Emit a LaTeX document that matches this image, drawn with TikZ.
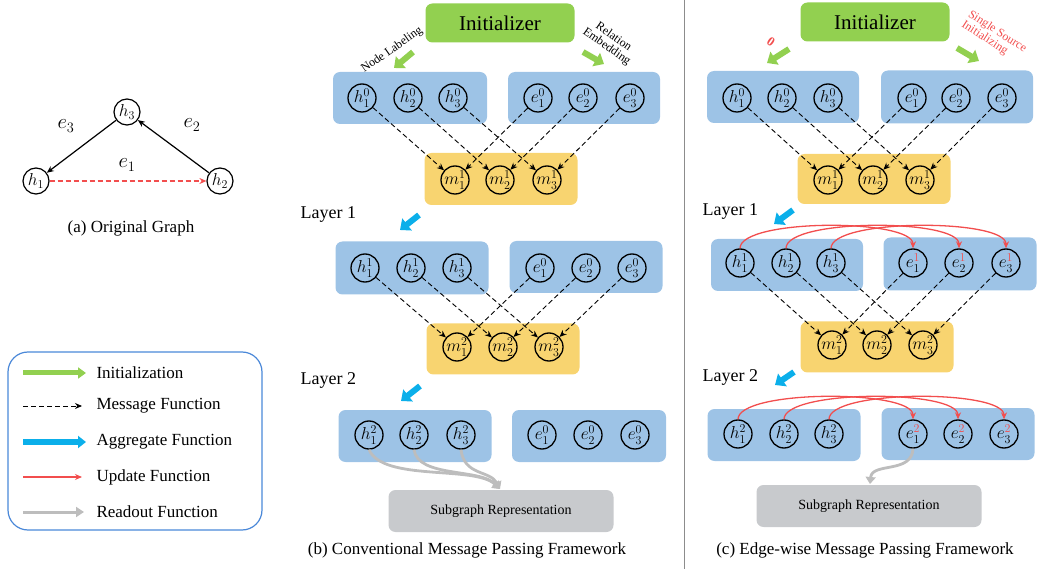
\documentclass[tikz,border=0pt]{standalone}
\usepackage{fontspec}
\setmainfont{Liberation Serif}
\usetikzlibrary{arrows.meta}
\definecolor{boxblue}{HTML}{9DC3E6}
\definecolor{boxorange}{HTML}{F8D470}
\definecolor{initgreen}{HTML}{92D050}
\definecolor{aggblue}{HTML}{0BAFEA}
\definecolor{updred}{HTML}{F24E4E}
\definecolor{readgray}{HTML}{BDBDBD}
\definecolor{subgray}{HTML}{C8CACD}
\definecolor{legblue}{HTML}{4A88D8}
\definecolor{sepgray}{HTML}{8C8C8C}
\tikzset{
  vnode/.style={circle,draw=black,line width=1.3pt,minimum size=28pt,inner sep=0pt,font=\fontsize{18}{18}\selectfont},
  anode/.style={circle,draw=black,line width=1.2pt,minimum size=26pt,inner sep=0pt,font=\fontsize{17}{17}\selectfont},
  bluebox/.style={fill=boxblue,rounded corners=7pt,inner sep=0pt},
  orangebox/.style={fill=boxorange,rounded corners=7pt,inner sep=0pt},
  graybox/.style={fill=subgray,rounded corners=7pt,inner sep=0pt,font=\fontsize{14}{16}\selectfont},
  initbox/.style={fill=initgreen,rounded corners=7pt,inner sep=0pt,font=\fontsize{21}{24}\selectfont},
  msg/.style={dash pattern=on 5pt off 3pt,line width=0.9pt,-{Stealth[length=7pt,width=6pt]}},
  initarrow/.style={initgreen,line width=6pt,-{Triangle[length=9pt,width=15pt]}},
  aggarrow/.style={aggblue,line width=6pt,-{Triangle[length=9pt,width=15pt]}},
  upd/.style={updred,line width=1.3pt,-{Stealth[length=7pt,width=6pt]}},
  readout/.style={readgray,line width=2.8pt,-{Triangle[length=7pt,width=10pt]}},
  captxt/.style={font=\fontsize{17}{20}\selectfont},
  laytxt/.style={font=\fontsize{18}{20}\selectfont,anchor=west},
  legtxt/.style={font=\fontsize{17}{20}\selectfont,anchor=west},
  smalltxt/.style={font=\fontsize{12}{12}\selectfont,align=left},
}
\begin{document}
\begin{tikzpicture}[x=1pt,y=-1pt]
\useasboundingbox (0,0) rectangle (1050,569);
% separator
\draw[sepgray,line width=1pt] (684,0) -- (684,569);

% ---------------- (a) original graph
\node[anode] (ah3) at (127,112) {$h_3$};
\node[anode] (ah1) at (36,181) {$h_1$};
\node[anode] (ah2) at (220,181) {$h_2$};
\draw[line width=1.2pt,-{Stealth[length=7pt,width=6pt]}] (ah3) -- (ah1);
\draw[line width=1.2pt,-{Stealth[length=7pt,width=6pt]}] (ah2) -- (ah3);
\draw[updred,line width=1.3pt,dash pattern=on 5pt off 3pt,-{Stealth[length=7pt,width=6pt]}] (ah1) -- (ah2);
\node[font=\fontsize{20}{20}\selectfont] (le3) at (66,126) {$e_3$};
\node[font=\fontsize{20}{20}\selectfont] (le2) at (192,125) {$e_2$};
\node[font=\fontsize{20}{20}\selectfont] (le1) at (127,165) {$e_1$};
\node[captxt] (capa) at (131,228) {(a) Original Graph};

% ---------------- legend
\draw[legblue,line width=1.2pt,rounded corners=20pt] (8,352) rectangle (262,530);
\coordinate (l1a) at (23,373); \coordinate (l1b) at (86,373);
\coordinate (l2a) at (23,406); \coordinate (l2b) at (82,406);
\coordinate (l3a) at (23,442); \coordinate (l3b) at (86,442);
\coordinate (l4a) at (23,477); \coordinate (l4b) at (82,477);
\coordinate (l5a) at (23,512); \coordinate (l5b) at (84,512);
\draw[initgreen,line width=5pt,-{Triangle[length=8pt,width=11pt]}] (l1a) -- (l1b);
\draw[msg] (l2a) -- (l2b);
\draw[aggblue,line width=6pt,-{Triangle[length=8pt,width=12pt]}] (l3a) -- (l3b);
\draw[upd] (l4a) -- (l4b);
\draw[readgray,line width=3pt,-{Triangle[length=8pt,width=10pt]}] (l5a) -- (l5b);
\node[legtxt] (t1) at (93,373) {Initialization};
\node[legtxt] (t2) at (93,406) {Message Function};
\node[legtxt] (t3) at (93,442) {Aggregate Function};
\node[legtxt] (t4) at (93,477) {Update Function};
\node[legtxt] (t5) at (93,512) {Readout Function};

% ---------------- (b) conventional
\node[initbox,minimum width=149pt,minimum height=39pt] (binit) at (500,23) {Initializer};
\coordinate (bga) at (413,52); \coordinate (bgb) at (394,68);
\coordinate (bgc) at (583,52); \coordinate (bgd) at (604,64);
\draw[initarrow] (bga) -- (bgb);
\draw[initarrow] (bgc) -- (bgd);
\node[smalltxt,rotate=35] (bnl) at (392,50) {Node Labeling};
\node[smalltxt,rotate=-35,align=center] (bre) at (610,42) {Relation\\Embedding};

% row 0
\node[bluebox,minimum width=154pt,minimum height=52pt] (bAL) at (410,98) {};
\node[bluebox,minimum width=152pt,minimum height=52pt] (bAR) at (584,98) {};
\node[orangebox,minimum width=153pt,minimum height=52pt] (bAO) at (501,179) {};
\foreach \i/\x in {1/362,2/408,3/453} \node[vnode] (bAh\i) at (\x,98) {$h_{\i}^{0}$};
\foreach \i/\x in {1/538,2/583,3/630} \node[vnode] (bAe\i) at (\x,98) {$e_{\i}^{0}$};
\foreach \i/\x in {1/455,2/500,3/547} \node[vnode] (bAm\i) at (\x,180) {$m_{\i}^{1}$};
\foreach \i in {1,2,3} {\draw[msg] (bAh\i) -- (bAm\i); \draw[msg] (bAe\i) -- (bAm\i);}

% layer 1
\node[laytxt] (bl1) at (297,215) {Layer 1};
\coordinate (bba) at (419,215); \coordinate (bbb) at (400,230);
\draw[aggarrow] (bba) -- (bbb);
\node[bluebox,minimum width=153pt,minimum height=53pt] (bBL) at (412,268) {};
\node[bluebox,minimum width=153pt,minimum height=52pt] (bBR) at (586,267) {};
\node[orangebox,minimum width=153pt,minimum height=51pt] (bBO) at (503,349) {};
\foreach \i/\x in {1/365,2/411,3/457} \node[vnode] (bBh\i) at (\x,268) {$h_{\i}^{1}$};
\foreach \i/\x in {1/540,2/586,3/632} \node[vnode] (bBe\i) at (\x,268) {$e_{\i}^{0}$};
\foreach \i/\x in {1/457,2/503,3/549} \node[vnode] (bBm\i) at (\x,347) {$m_{\i}^{2}$};
\foreach \i in {1,2,3} {\draw[msg] (bBh\i) -- (bBm\i); \draw[msg] (bBe\i) -- (bBm\i);}

% layer 2
\node[laytxt] (bl2) at (297,380) {Layer 2};
\coordinate (bca) at (420,386); \coordinate (bcb) at (401,401);
\draw[aggarrow] (bca) -- (bcb);
\node[bluebox,minimum width=153pt,minimum height=52pt] (bCL) at (415,436) {};
\node[bluebox,minimum width=154pt,minimum height=52pt] (bCR) at (589,436) {};
\foreach \i/\x in {1/369,2/414,3/461} \node[vnode] (bCh\i) at (\x,435) {$h_{\i}^{2}$};
\foreach \i/\x in {1/542,2/588,3/635} \node[vnode] (bCe\i) at (\x,435) {$e_{\i}^{0}$};
\node[graybox,minimum width=225pt,minimum height=42pt] (bsub) at (501,511) {Subgraph Representation};
\coordinate (btip) at (500,489);
\draw[readout] (bCh1.south) .. controls (383,482) and (475,465) .. (btip);
\draw[readout] (bCh2.south) .. controls (418,478) and (480,468) .. (btip);
\draw[readout] (bCh3.south) .. controls (464,476) and (490,470) .. (btip);
\node[captxt] (capb) at (467,550) {(b) Conventional Message Passing Framework};

% ---------------- (c) edge-wise
\node[initbox,minimum width=149pt,minimum height=39pt] (cinit) at (875,22) {Initializer};
\coordinate (cga) at (789,49); \coordinate (cgb) at (767,63);
\coordinate (cgc) at (957,48); \coordinate (cgd) at (979,61);
\draw[initarrow] (cga) -- (cgb);
\draw[initarrow] (cgc) -- (cgd);
\node[updred,rotate=-35,font=\fontsize{13}{13}\selectfont\bfseries] (czero) at (771,42) {0};
\node[smalltxt,updred,rotate=-33] (cssi) at (994,37) {Single Source\\Initializing};

% row 0
\node[bluebox,minimum width=152pt,minimum height=52pt] (cAL) at (783,97) {};
\node[bluebox,minimum width=152pt,minimum height=53pt] (cAR) at (957,97) {};
\node[orangebox,minimum width=153pt,minimum height=50pt] (cAO) at (874,179) {};
\foreach \i/\x in {1/737,2/782,3/828} \node[vnode] (cAh\i) at (\x,98) {$h_{\i}^{0}$};
\foreach \i/\x in {1/912,2/956,3/1002} \node[vnode] (cAe\i) at (\x,98) {$e_{\i}^{0}$};
\foreach \i/\x in {1/828,2/873,3/920} \node[vnode] (cAm\i) at (\x,180) {$m_{\i}^{1}$};
\foreach \i in {1,2,3} {\draw[msg] (cAh\i) -- (cAm\i); \draw[msg] (cAe\i) -- (cAm\i);}

% layer 1
\node[laytxt] (cl1) at (699,212) {Layer 1};
\coordinate (cba) at (793,210); \coordinate (cbb) at (774,224);
\draw[aggarrow] (cba) -- (cbb);
\node[bluebox,minimum width=152pt,minimum height=52pt] (cBL) at (787,265) {};
\node[bluebox,minimum width=153pt,minimum height=53pt] (cBR) at (960,264) {};
\node[orangebox,minimum width=153pt,minimum height=51pt] (cBO) at (877,347) {};
\foreach \i/\x in {1/740,2/786,3/831} \node[vnode] (cBh\i) at (\x,263) {$h_{\i}^{1}$};
\foreach \i/\x in {1/913,2/959,3/1006} \node[vnode] (cBe\i) at (\x,263) {$e_{\i}^{\textcolor{updred}{1}}$};
\foreach \i/\x in {1/832,2/877,3/923} \node[vnode] (cBm\i) at (\x,345) {$m_{\i}^{2}$};
\foreach \i in {1,2,3} {\draw[msg] (cBh\i) -- (cBm\i); \draw[msg] (cBe\i) -- (cBm\i);}
\foreach \i in {1,2,3} {
  \draw[upd] (cBh\i.north) .. controls ([yshift=30pt]cBh\i.north) and ([yshift=30pt]cBe\i.north) .. (cBe\i.north);
}

% layer 2
\node[laytxt] (cl2) at (699,377) {Layer 2};
\coordinate (cca) at (794,372); \coordinate (ccb) at (775,385);
\draw[aggarrow] (cca) -- (ccb);
\node[bluebox,minimum width=153pt,minimum height=52pt] (cCL) at (784,435) {};
\node[bluebox,minimum width=153pt,minimum height=52pt] (cCR) at (958,434) {};
\foreach \i/\x in {1/738,2/784,3/829} \node[vnode] (cCh\i) at (\x,434) {$h_{\i}^{2}$};
\foreach \i/\x in {1/913,2/958,3/1004} \node[vnode] (cCe\i) at (\x,434) {$e_{\i}^{\textcolor{updred}{2}}$};
\foreach \i in {1,2,3} {
  \draw[upd] (cCh\i.north) .. controls ([yshift=30pt]cCh\i.north) and ([yshift=30pt]cCe\i.north) .. (cCe\i.north);
}
\node[graybox,minimum width=225pt,minimum height=42pt] (csub) at (869,506) {Subgraph Representation};
\coordinate (ctip) at (870,484);
\draw[readout] (cCe1.south) .. controls (912,474) and (872,462) .. (ctip);
\node[captxt] (capc) at (865,550) {(c) Edge-wise Message Passing Framework};
\end{tikzpicture}
\end{document}
